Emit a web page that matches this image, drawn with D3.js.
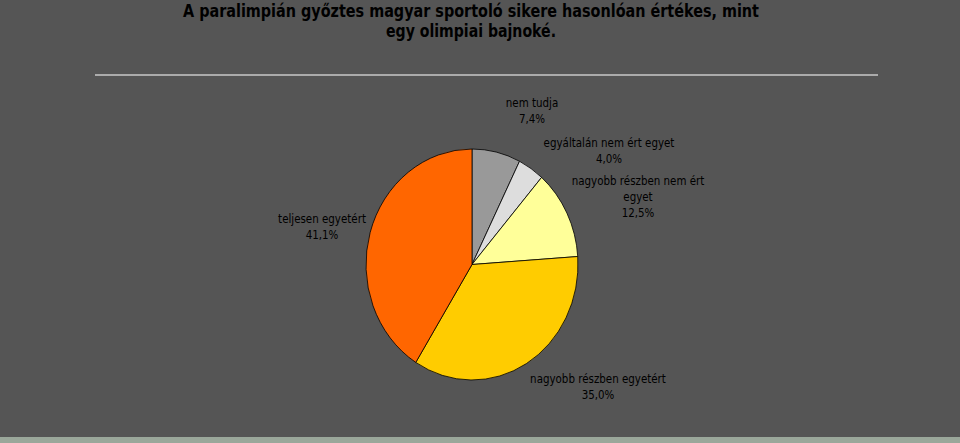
<!DOCTYPE html>
<html>
<head>
<meta charset="utf-8">
<script src="https://cdn.jsdelivr.net/npm/d3@7"></script>
<style>
  html, body { margin: 0; padding: 0; background: #555555; }
  svg { display: block; }
</style>
</head>
<body>
<svg id="chart"></svg>
<script>
const width = 960;
const height = 443;

// adatok (az óramutató járásával, 12 órától kezdve)
const categories = [
  "nem tudja",
  "egyáltalán nem ért egyet",
  "nagyobb részben nem ért egyet",
  "nagyobb részben egyetért",
  "teljesen egyetért"
];
const values = [7.4, 4.0, 12.5, 35.0, 41.1];
const colors = ["#999999", "#dddddd", "#ffff99", "#ffcc00", "#ff6600"];

// címkék sorai
const labelLines = [
  ["nem tudja", "7,4%"],
  ["egyáltalán nem ért egyet", "4,0%"],
  ["nagyobb részben nem ért", "egyet", "12,5%"],
  ["nagyobb részben egyetért", "35,0%"],
  ["teljesen egyetért", "41,1%"]
];
const labelPos = [
  [532, 107],
  [609, 147],
  [638, 185],
  [598, 383],
  [322, 223]
];

const titleLines = [
  "A paralimpián győztes magyar sportoló sikere hasonlóan értékes, mint",
  "egy olimpiai bajnoké."
];

const svg = d3.select("#chart")
  .attr("width", width)
  .attr("height", height);

// háttér
svg.append("rect")
  .attr("width", width)
  .attr("height", height)
  .attr("fill", "#555555");

// alsó sáv
svg.append("rect")
  .attr("x", 0)
  .attr("y", 437)
  .attr("width", width)
  .attr("height", height - 437)
  .attr("fill", "#9aa79a");

// cím
const title = svg.append("text")
  .attr("text-anchor", "middle")
  .attr("font-family", "'DejaVu Sans', sans-serif")
  .attr("font-weight", "bold")
  .attr("font-size", "17.5px")
  .attr("fill", "#000");
title.append("tspan").attr("x", 471).attr("y", 16.5)
  .attr("textLength", 576).attr("lengthAdjust", "spacingAndGlyphs")
  .text(titleLines[0]);
title.append("tspan").attr("x", 471).attr("y", 37)
  .attr("textLength", 170).attr("lengthAdjust", "spacingAndGlyphs")
  .text(titleLines[1]);

// vízszintes vonal
svg.append("line")
  .attr("x1", 95).attr("x2", 878)
  .attr("y1", 75).attr("y2", 75)
  .attr("stroke", "#c8c8c8")
  .attr("stroke-width", 1.5);

// kör (enyhén ellipszis)
const cx = 472, cy = 264.5;
const rx = 106, ry = 115.5;

const pie = d3.pie().sort(null).value((d) => d);
const arc = d3.arc().innerRadius(0).outerRadius(ry);

const g = svg.append("g")
  .attr("transform", `translate(${cx},${cy}) scale(${rx / ry},1)`);

g.selectAll("path")
  .data(pie(values))
  .join("path")
  .attr("d", arc)
  .attr("fill", (d, i) => colors[i])
  .attr("stroke", "#000")
  .attr("stroke-width", 0.8)
  .attr("vector-effect", "non-scaling-stroke");

// címkék (Tahoma-szerű: DejaVu Sans vízszintesen összenyomva)
const labels = svg.append("g")
  .attr("font-family", "'DejaVu Sans', sans-serif")
  .attr("font-size", "12.5px")
  .attr("fill", "#000")
  .attr("text-anchor", "middle");

// szélesség-mérés a "nagyobb részben egyetért" sorhoz (~136px a képen)
const probe = labels.append("text").text(labelLines[3][0]);
const k = Math.min(1, 136 / probe.node().getComputedTextLength());
probe.remove();

categories.forEach((c, i) => {
  const t = labels.append("text")
    .attr("transform", `translate(${labelPos[i][0]},0) scale(${k},1)`);
  labelLines[i].forEach((line, j) => {
    t.append("tspan")
      .attr("x", 0)
      .attr("y", labelPos[i][1] + j * 16)
      .text(line);
  });
});
</script>
</body>
</html>
